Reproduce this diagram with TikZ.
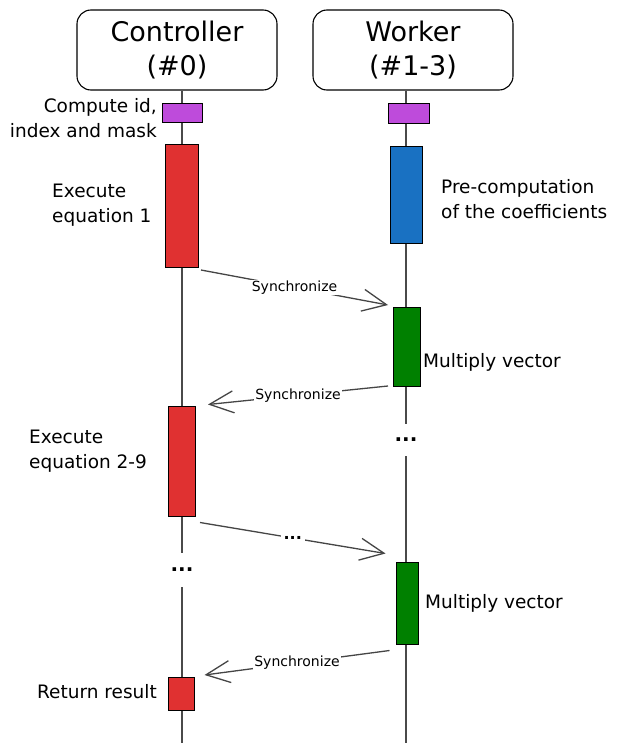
\documentclass[tikz,border=0pt]{standalone}
\usepackage{fontspec}
\setmainfont{DejaVu Sans}
\usepackage{tikz}
\usetikzlibrary{arrows.meta}
\definecolor{actpurple}{HTML}{BE4BDB}
\definecolor{actred}{HTML}{E03131}
\definecolor{actblue}{HTML}{1971C2}
\definecolor{actgreen}{HTML}{008000}
\definecolor{lifegray}{HTML}{4A4A4A}
\definecolor{msggray}{HTML}{454545}

\begin{document}
\begin{tikzpicture}[x=1pt,y=-1pt,
  head/.style={draw, line width=1.1pt, rounded corners=14pt, minimum width=200pt, minimum height=80pt, align=center, font=\fontsize{27}{34}\selectfont},
  act/.style={draw, line width=1pt, fill=#1, inner sep=0pt},
  lbl/.style={font=\fontsize{18.5}{25}\selectfont, align=left, inner sep=0pt},
  gap/.style={font=\bfseries\fontsize{20}{24}\selectfont, inner sep=0pt},
  lifeline/.style={draw=lifegray, line width=1.1pt},
  msg/.style={draw=msggray, line width=1.3pt, -{Straight Barb[length=24pt,width=22pt]}},
  msglbl/.style={midway, fill=white, inner sep=1pt, font=\fontsize{14}{16}\selectfont}]
\useasboundingbox (0,0) rectangle (636,752);
% participants
\node[head] (ctrl) at (177,50) {Controller\\(\#0)};
\node[head] (work) at (413,50) {Worker\\(\#1-3)};
\node[gap, minimum height=34pt] (cdots) at (182,570) {...};
\node[gap, minimum height=32pt] (wdots) at (406,440) {...};
\coordinate (cend) at (182,743);
\coordinate (wend) at (406,743);
% lifelines
\draw[lifeline] (cdots |- ctrl.south) -- (cdots.north);
\draw[lifeline] (cdots.south) -- (cend);
\draw[lifeline] (wdots |- work.south) -- (wdots.north);
\draw[lifeline] (wdots.south) -- (wend);
% activations
\node[act=actpurple, minimum width=40pt, minimum height=19pt] (cinit) at (182,113) {};
\node[act=actpurple, minimum width=41pt, minimum height=20pt] (winit) at (409,113) {};
\node[act=actred, minimum width=33pt, minimum height=123pt] (ceq1) at (182,206) {};
\node[act=actblue, minimum width=32pt, minimum height=97pt] (wpre) at (406,195) {};
\node[act=actgreen, minimum width=27pt, minimum height=79pt] (wmul1) at (407,347) {};
\node[act=actred, minimum width=27pt, minimum height=110pt] (ceq2) at (182,461) {};
\node[act=actgreen, minimum width=22pt, minimum height=82pt] (wmul2) at (407,603) {};
\node[act=actred, minimum width=26pt, minimum height=33pt] (cret) at (181,694) {};
% labels
\node[lbl, align=right, anchor=east] (cinitl) at (157,118) {Compute id,\\index and mask};
\node[lbl, anchor=west] (ceq1l) at (52,205) {Execute\\equation 1};
\node[lbl, anchor=west] (wprel) at (441,199) {Pre-computation\\of the coefficients};
\node[lbl, anchor=west] (wmul1l) at (423,362) {Multiply vector};
\node[lbl, anchor=west] (ceq2l) at (29,451) {Execute\\equation 2-9};
\node[lbl, anchor=west] (wmul2l) at (425,603) {Multiply vector};
\node[lbl, anchor=east] (cretl) at (157,692) {Return result};
% messages
\draw[msg] ([xshift=2pt,yshift=-2pt]ceq1.south east) -- node[msglbl] {Synchronize} ([xshift=-5pt,yshift=2pt]wmul1.north west);
\draw[msg] ([xshift=-5pt,yshift=1pt]wmul1.south west) -- node[msglbl] {Synchronize} ([xshift=12pt,yshift=1pt]ceq2.north east);
\draw[msg] ([xshift=4pt,yshift=-6pt]ceq2.south east) -- node[msglbl, font=\bfseries\fontsize{16}{18}\selectfont, inner sep=3pt] {...} ([xshift=-10pt,yshift=8pt]wmul2.north west);
\draw[msg] ([xshift=-6pt,yshift=-6pt]wmul2.south west) -- node[msglbl] {Synchronize} ([xshift=10pt,yshift=2pt]cret.north east);
\end{tikzpicture}
\end{document}
